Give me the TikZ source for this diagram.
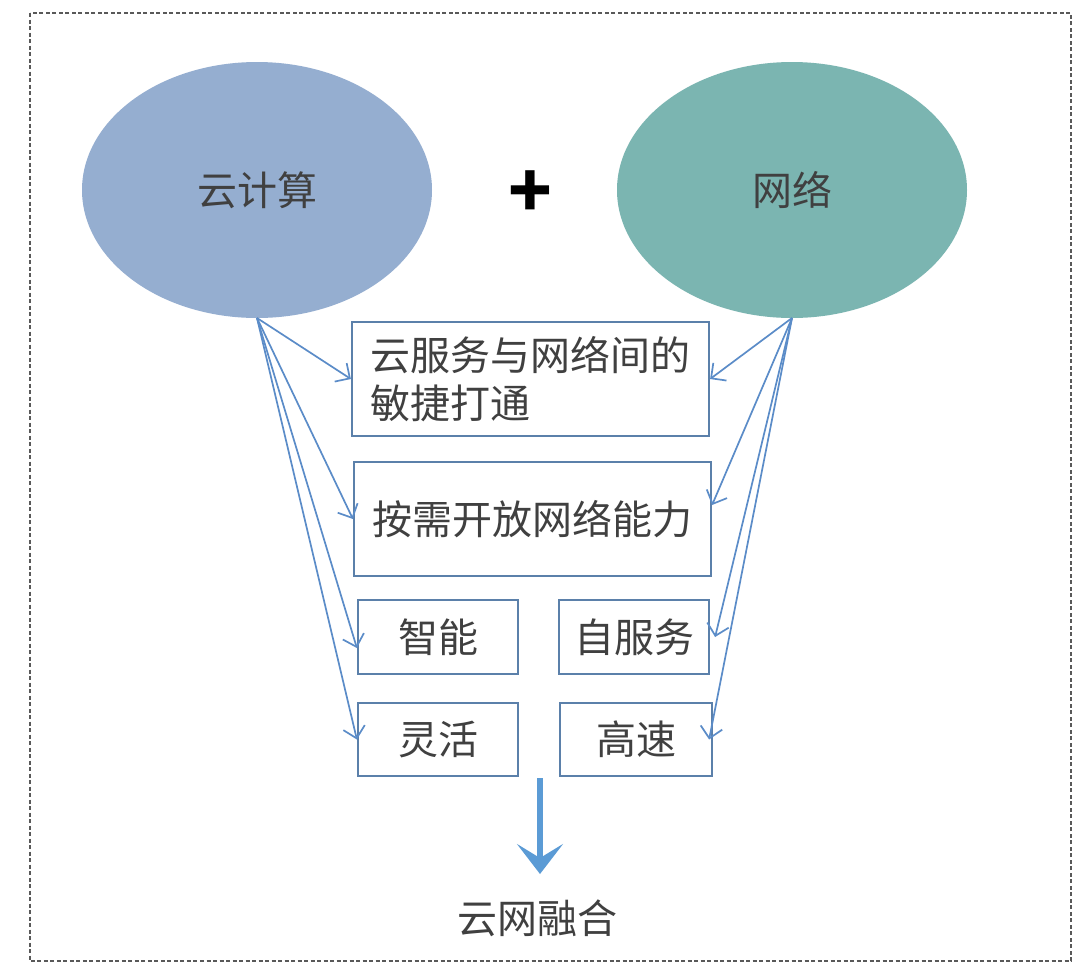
\documentclass[tikz,border=0pt]{standalone}
\usepackage{fontspec}
\setmainfont{Noto Sans CJK SC}
\usepackage{xcolor}
\usetikzlibrary{shapes,arrows.meta,positioning,calc}
\definecolor{cloudblue}{HTML}{95AED0}
\definecolor{netteal}{HTML}{7BB5B1}
\definecolor{boxline}{HTML}{5B80AA}
\definecolor{arrowblue}{HTML}{5B8CC8}
\definecolor{bigarrow}{HTML}{5B9BD5}
\definecolor{textgray}{HTML}{404040}

\begin{document}
\begin{tikzpicture}[x=1pt,y=-1pt,
    blob/.style={ellipse,minimum width=350pt,minimum height=256pt,inner sep=0pt,
        text=textgray,font=\fontsize{40}{48}\selectfont},
    featbox/.style={draw=boxline,line width=2.2pt,text=textgray,inner sep=0pt,
        font=\fontsize{40}{48}\selectfont},
    link/.style={draw=arrowblue,line width=1.7pt,-{Straight Barb[length=11pt,width=22pt]}}]
    \useasboundingbox (0,0) rectangle (1080,970);
    \fill[white] (0,0) rectangle (1080,970);
    \draw[gray!70!black,line width=1.2pt,dash pattern=on 4pt off 2.5pt] (30,13) rectangle (1071,961);
    % the two sides
    \node[blob,fill=cloudblue] (cloud) at (257,190) {云计算};
    \node[blob,fill=netteal] (net) at (792,190) {网络};
    \node[font=\fontsize{72}{72}\selectfont\bfseries] (plus) at (530,194) {+};
    % feature boxes
    \node[featbox,minimum width=357pt,minimum height=114pt,align=left] (b1) at (530.5,379) {云服务与网络间的\\敏捷打通};
    \node[featbox,minimum width=357pt,minimum height=114pt] (b2) at (532.5,519) {按需开放网络能力};
    \node[featbox,minimum width=160pt,minimum height=74pt] (b3) at (438,637) {智能};
    \node[featbox,minimum width=150pt,minimum height=74pt] (b4) at (634,637) {自服务};
    \node[featbox,minimum width=160pt,minimum height=73pt] (b5) at (438,739.5) {灵活};
    \node[featbox,minimum width=152pt,minimum height=73pt] (b6) at (636,739.5) {高速};
    \coordinate (cl) at (257,318);
    \coordinate (nt) at (792,318);
    \coordinate (b3in) at ([yshift=-11pt]b3.west);
    \coordinate (b2out) at ([yshift=14pt]b2.east);
    \coordinate (b4out) at ([xshift=5pt]b4.east);
    \coordinate (b6out) at ([xshift=-4pt]b6.east);
    % connectors
    \foreach \target in {b1.west, b2.west, b3in, b5.west}
        \draw[link] (cl) -- (\target);
    \foreach \target in {b1.east, b2out, b4out, b6out}
        \draw[link] (nt) -- (\target);
    % result
    \node[text=textgray,font=\fontsize{40}{48}\selectfont] (merge) at (537,918) {云网融合};
    \coordinate (top) at (540,778);
    \coordinate (tip) at (540,874);
    \draw[draw=bigarrow,line width=6pt,-{Stealth[length=30pt,width=46pt,inset=14pt]}] (top) -- (tip);
\end{tikzpicture}
\end{document}
